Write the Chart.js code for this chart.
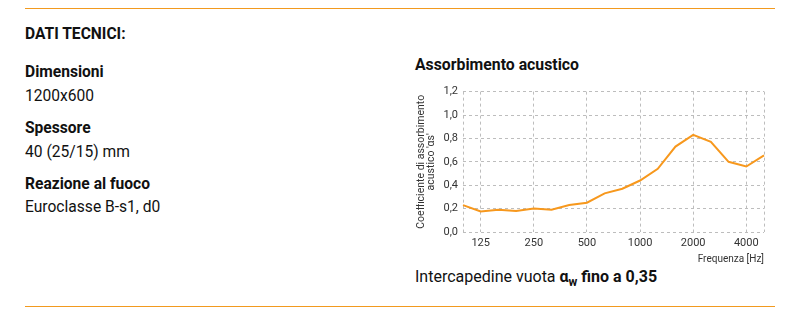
<!DOCTYPE html>
<html lang="it">
<head>
<meta charset="utf-8">
<script src="https://cdn.jsdelivr.net/npm/chart.js@4"></script>
<style>
html,body{margin:0;padding:0;background:#fff;width:789px;height:318px;overflow:hidden;font-family:Roboto,"Noto Sans",sans-serif;color:#111;}
.hr{position:absolute;left:25px;width:750px;height:0;border-top:1.5px solid #f29a1f;}
.t{position:absolute;left:25px;font-size:15.6px;line-height:18px;white-space:nowrap;}
.b{font-weight:700;}
#wrap{position:absolute;left:416px;top:80px;width:354px;height:185px;}
#ttl{position:absolute;left:415px;top:55px;font-size:15.8px;font-weight:700;}
#note{position:absolute;left:415px;top:267px;font-size:16px;white-space:nowrap;}
#note sub{font-size:12px;vertical-align:-4px;line-height:0;}
</style>
</head>
<body>
<div class="hr" style="top:8px"></div>
<div class="t b" style="top:25px">DATI TECNICI:</div>
<div class="t b" style="top:63px">Dimensioni</div>
<div class="t" style="top:87px">1200x600</div>
<div class="t b" style="top:119px">Spessore</div>
<div class="t" style="top:143px">40 (25/15) mm</div>
<div class="t b" style="top:175px">Reazione al fuoco</div>
<div class="t" style="top:198px">Euroclasse B-s1, d0</div>
<div id="ttl">Assorbimento acustico</div>
<div id="wrap"><canvas id="c"></canvas></div>
<div id="note">Intercapedine vuota <b>α<sub>w</sub> fino a 0,35</b></div>
<div class="hr" style="top:306px"></div>
<script>
const freqs=['100','125','160','200','250','315','400','500','630','800','1000','1250','1600','2000','2500','3150','4000','5000'];
const shownTicks=['125','250','500','1000','2000','4000'];
const alpha=[0.23,0.175,0.19,0.18,0.2,0.19,0.23,0.25,0.33,0.37,0.44,0.54,0.73,0.83,0.77,0.60,0.56,0.655];

const gridCol='#bdbdbd';
new Chart(document.getElementById('c'),{
  type:'line',
  data:{labels:freqs,datasets:[{data:alpha,borderColor:'#f7981d',borderWidth:2,pointRadius:0,tension:0,fill:false}]},
  options:{
    responsive:true,maintainAspectRatio:false,animation:false,
    layout:{padding:{top:10,right:6,left:0,bottom:0}},
    plugins:{legend:{display:false},tooltip:{enabled:false}},
    scales:{
      x:{
        offset:false,
        grid:{drawTicks:false,color:ctx=>{
          const i=ctx.index;
          return (i===0||i===freqs.length-1||shownTicks.includes(freqs[i]))?gridCol:'rgba(0,0,0,0)';}},
        border:{display:false,dash:[3,3]},
        ticks:{autoSkip:false,maxRotation:0,padding:5,color:'#333',font:{family:'Roboto',size:11},
          callback:function(v){const l=this.getLabelForValue(v);return shownTicks.includes(l)?l:'';}},
        title:{display:true,text:'Frequenza [Hz]',align:'end',color:'#333',font:{family:'Roboto',size:10},padding:{top:1,bottom:0}},
        afterFit:s=>{s.height=33;}
      },
      y:{
        min:0,max:1.2,
        grid:{color:gridCol,drawTicks:false},
        border:{display:false,dash:[3,3]},
        ticks:{stepSize:0.2,padding:5,color:'#333',font:{family:'Roboto',size:11},
          callback:v=>v.toFixed(1).replace('.',',')},
        title:{display:true,text:['Coefficiente di assorbimento',"acustico 'αs'"],color:'#333',font:{family:'Roboto',size:10.5,lineHeight:1.0},padding:{top:0,bottom:0}},
        afterFit:s=>{s.width=47;}
      }
    }
  }
});
</script>
</body>
</html>
